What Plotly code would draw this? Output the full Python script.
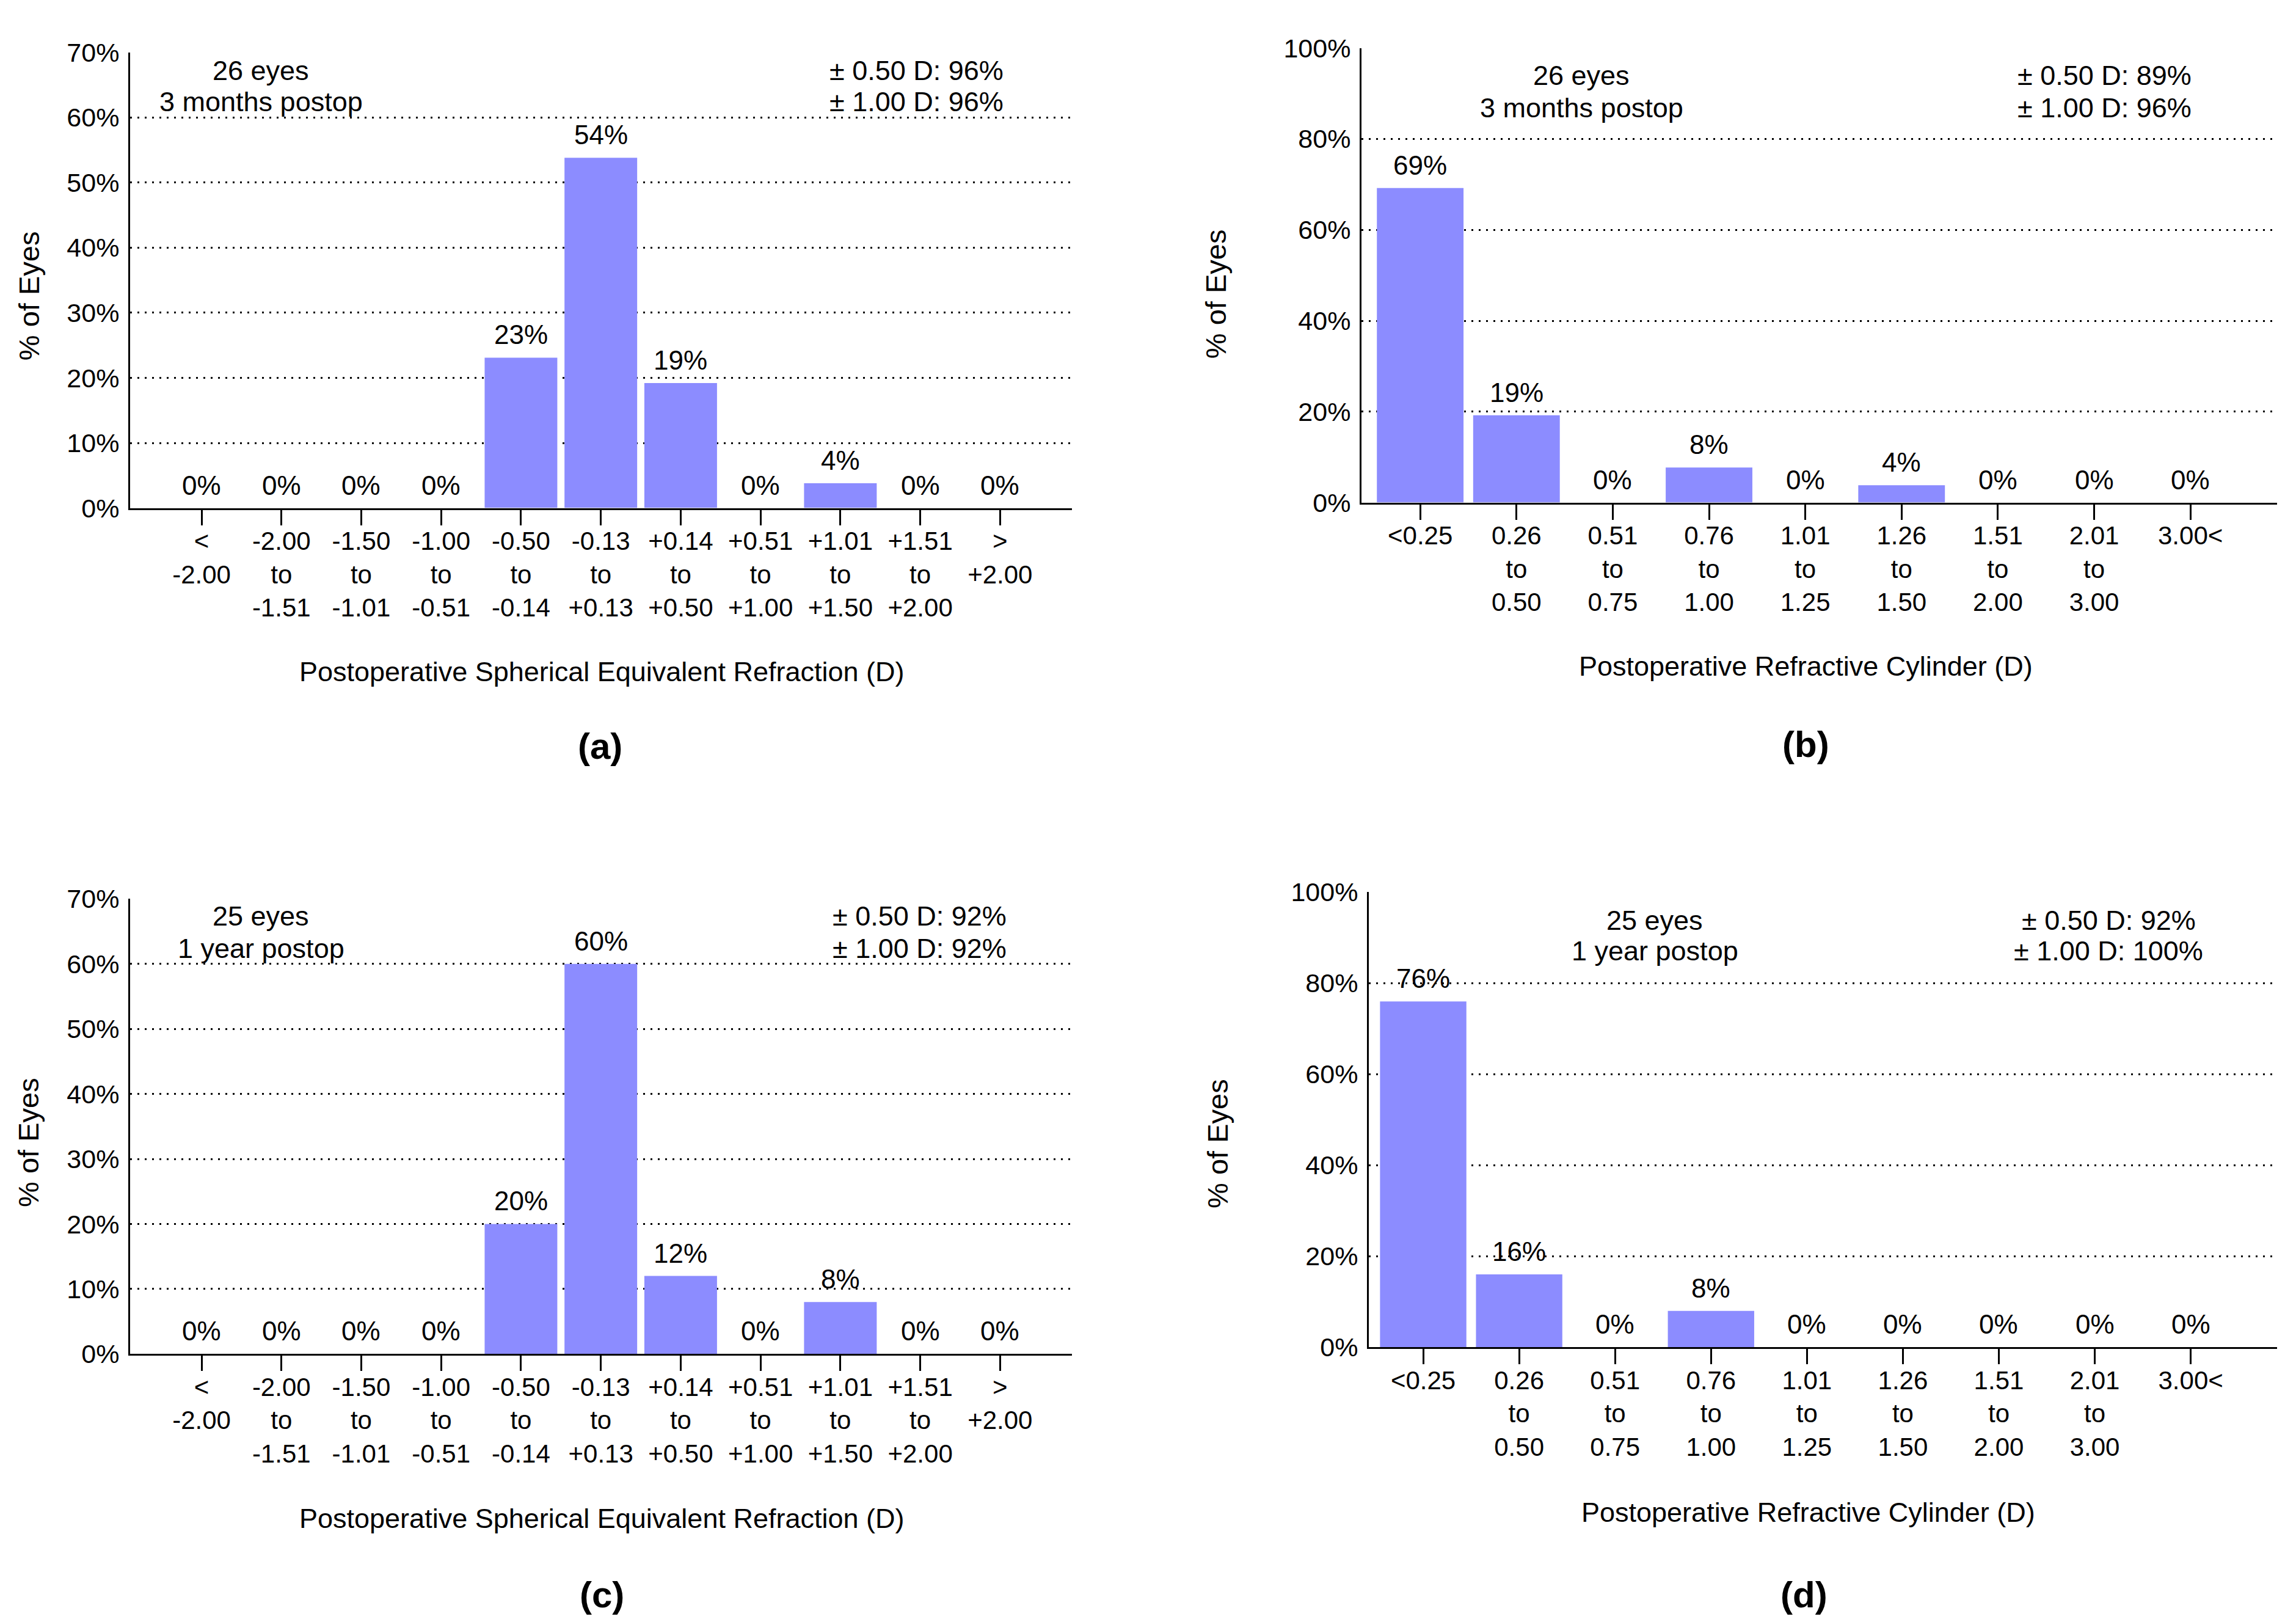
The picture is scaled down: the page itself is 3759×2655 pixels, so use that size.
import plotly.graph_objects as go

W, H = 3759, 2655

# ---------------- data ----------------
se_categories = ["&lt;<br>-2.00", "-2.00<br>to<br>-1.51", "-1.50<br>to<br>-1.01",
                 "-1.00<br>to<br>-0.51", "-0.50<br>to<br>-0.14", "-0.13<br>to<br>+0.13",
                 "+0.14<br>to<br>+0.50", "+0.51<br>to<br>+1.00", "+1.01<br>to<br>+1.50",
                 "+1.51<br>to<br>+2.00", "&gt;<br>+2.00"]
se_3m = [0, 0, 0, 0, 23.1, 53.8, 19.2, 0, 3.8, 0, 0]
se_1y = [0, 0, 0, 0, 20, 60, 12, 0, 8, 0, 0]

cyl_categories = ["&lt;0.25", "0.26<br>to<br>0.50", "0.51<br>to<br>0.75",
                  "0.76<br>to<br>1.00", "1.01<br>to<br>1.25", "1.26<br>to<br>1.50",
                  "1.51<br>to<br>2.00", "2.01<br>to<br>3.00", "3.00&lt;"]
cyl_3m = [69.2, 19.2, 0, 7.7, 0, 3.8, 0, 0, 0]
cyl_1y = [76, 16, 0, 8, 0, 0, 0, 0, 0]

info_3m_se = ["26 eyes", "3 months postop", "± 0.50 D: 96%", "± 1.00 D: 96%"]
info_3m_cyl = ["26 eyes", "3 months postop", "± 0.50 D: 89%", "± 1.00 D: 96%"]
info_1y_se = ["25 eyes", "1 year postop", "± 0.50 D: 92%", "± 1.00 D: 92%"]
info_1y_cyl = ["25 eyes", "1 year postop", "± 0.50 D: 92%", "± 1.00 D: 100%"]

se_title = "Postoperative Spherical Equivalent Refraction (D)"
cyl_title = "Postoperative Refractive Cylinder (D)"
y_title = "% of Eyes"
panel_labels = ["(a)", "(b)", "(c)", "(d)"]

# ---------------- style ----------------
FONT = "Liberation Sans, Arial, sans-serif"
BAR = "#8c8cff"

# page-placement compensation (measured from the rendered page)
SY, OY, OX = 0.9807, 31, 8


def px(x):
    return (x - OX) / W


def py(y):
    return 1 - (y / SY - OY) / H


panels = [
    dict(cats=se_categories, vals=se_3m, info=info_3m_se, xt=se_title, lab=panel_labels[0],
         l=213, r=1755, t=84, b=829, xr=[-0.895, 10.9], ymax=70, dt=10, bw=0.91,
         info_x=(427, 1500), info_y=(114, 165), xt_pos=(985, 1097), lab_pos=(983, 1218),
         yt_pos=(47, 482)),
    dict(cats=cyl_categories, vals=cyl_3m, info=info_3m_cyl, xt=cyl_title, lab=panel_labels[1],
         l=2229, r=3728, t=77, b=820, xr=[-0.61, 8.9], ymax=100, dt=20, bw=0.9,
         info_x=(2589, 3445), info_y=(122, 175), xt_pos=(2956, 1088), lab_pos=(2956, 1215),
         yt_pos=(1990, 479)),
    dict(cats=se_categories, vals=se_1y, info=info_1y_se, xt=se_title, lab=panel_labels[2],
         l=213, r=1755, t=1468, b=2212, xr=[-0.895, 10.9], ymax=70, dt=10, bw=0.91,
         info_x=(427, 1505), info_y=(1496, 1549), xt_pos=(985, 2481), lab_pos=(985, 2606),
         yt_pos=(47, 1866)),
    dict(cats=cyl_categories, vals=cyl_1y, info=info_1y_cyl, xt=cyl_title, lab=panel_labels[3],
         l=2241, r=3728, t=1457, b=2201, xr=[-0.567, 8.9], ymax=100, dt=20, bw=0.9,
         info_x=(2709, 3452), info_y=(1503, 1553), xt_pos=(2960, 2471), lab_pos=(2953, 2606),
         yt_pos=(1994, 1868)),
]

fig = go.Figure()
annotations = []
layout = {}

for i, p in enumerate(panels, start=1):
    sx = "" if i == 1 else str(i)
    fig.add_trace(go.Bar(x=p["cats"], y=p["vals"], width=p["bw"],
                         marker=dict(color=BAR, line=dict(width=0)),
                         xaxis="x" + sx, yaxis="y" + sx, showlegend=False,
                         hoverinfo="skip"))
    layout["xaxis" + sx] = dict(
        domain=[px(p["l"]), px(p["r"])], anchor="y" + sx,
        type="category", range=p["xr"], showgrid=False, zeroline=False,
        showline=True, linecolor="black", linewidth=3,
        ticks="outside", ticklen=25, tickwidth=3, tickcolor="black",
        ticklabelstandoff=-10,
        tickfont=dict(family=FONT, size=42, color="black"),
        fixedrange=True,
    )
    layout["yaxis" + sx] = dict(
        domain=[py(p["b"]), py(p["t"])], anchor="x" + sx,
        range=[0, p["ymax"]], dtick=p["dt"], tick0=0, ticksuffix="%",
        showgrid=True, gridcolor="black", gridwidth=2.5, griddash="3px,9px",
        zeroline=False, showline=True, linecolor="black", linewidth=3,
        ticks="", ticklabelstandoff=6,
        tickfont=dict(family=FONT, size=43, color="black"),
        fixedrange=True,
    )
    # value labels above bars
    for c, v in zip(p["cats"], p["vals"]):
        annotations.append(dict(x=c, y=v, xref="x" + sx, yref="y" + sx,
                                text=f"{round(v)}%", showarrow=False,
                                yanchor="bottom", xanchor="center", yshift=11,
                                font=dict(family=FONT, size=44, color="black")))
    # info texts
    for j, txt in enumerate(p["info"]):
        annotations.append(dict(x=px(p["info_x"][j // 2]), y=py(p["info_y"][j % 2]),
                                xref="paper", yref="paper", text=txt, showarrow=False,
                                xanchor="center", yanchor="middle",
                                font=dict(family=FONT, size=45, color="black")))
    # x title
    annotations.append(dict(x=px(p["xt_pos"][0]), y=py(p["xt_pos"][1]), xref="paper", yref="paper",
                            text=p["xt"], showarrow=False, xanchor="center", yanchor="middle",
                            font=dict(family=FONT, size=45, color="black")))
    # panel label
    annotations.append(dict(x=px(p["lab_pos"][0]), y=py(p["lab_pos"][1]), xref="paper", yref="paper",
                            text="<b>" + p["lab"] + "</b>", showarrow=False,
                            xanchor="center", yanchor="middle",
                            font=dict(family=FONT, size=60, color="black")))
    # y title
    annotations.append(dict(x=px(p["yt_pos"][0]), y=py(p["yt_pos"][1]), xref="paper", yref="paper",
                            text=y_title, showarrow=False, textangle=-90,
                            xanchor="center", yanchor="middle",
                            font=dict(family=FONT, size=47, color="black")))

fig.update_layout(
    width=W, height=H,
    margin=dict(l=0, r=0, t=0, b=0),
    paper_bgcolor="white", plot_bgcolor="white",
    bargap=0.08,
    annotations=annotations,
    **layout,
)

fig.write_html("out.html")
